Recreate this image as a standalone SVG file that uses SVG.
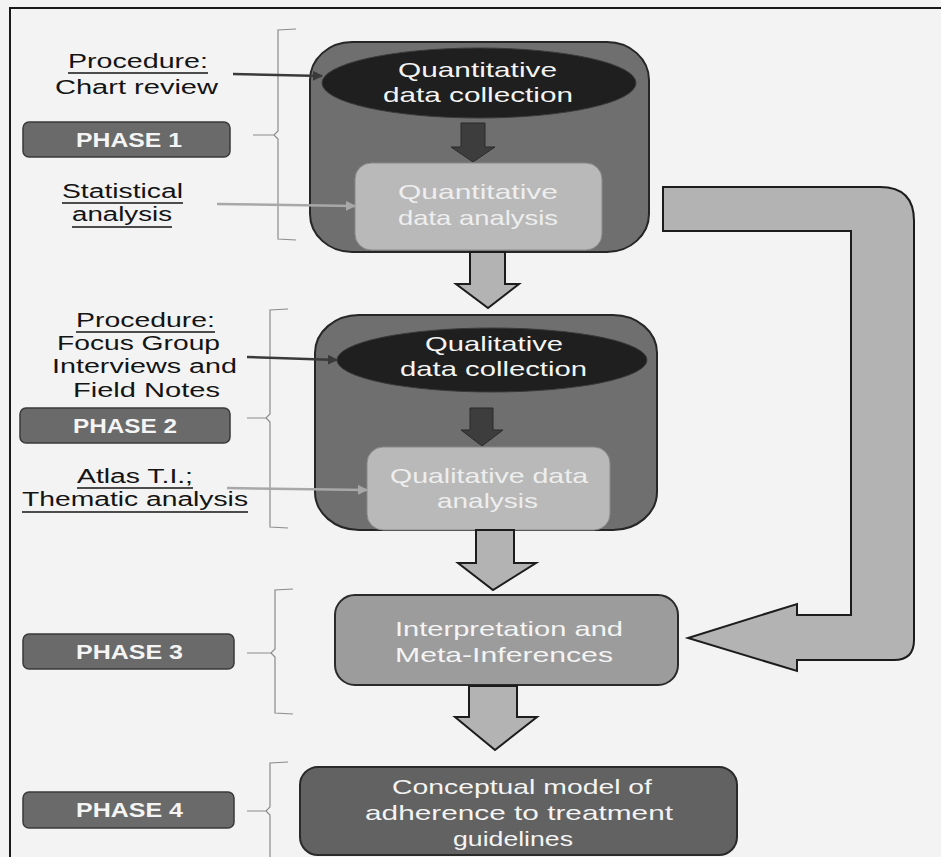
<svg xmlns="http://www.w3.org/2000/svg" width="941" height="857" viewBox="0 0 941 857">
  <defs>
    <style>
      .lbl { font-family: "Liberation Sans", Arial, sans-serif; font-size: 20px; fill: #141414; }
      .phase { font-family: "Liberation Sans", Arial, sans-serif; font-size: 21px; font-weight: bold; fill: #f4f4f4; }
      .in { font-family: "Liberation Sans", Arial, sans-serif; font-size: 21px; fill: #f4f4f4; }
      .inl { font-family: "Liberation Sans", Arial, sans-serif; font-size: 21px; fill: #eeeeee; }
      .ul { stroke: #141414; stroke-width: 1.6; }
      .phasebox { fill: #6a6a6a; stroke: #3a3a3a; stroke-width: 1.5; }
      .cyl { fill: #6f6f6f; stroke: #262626; stroke-width: 2; }
      .ell { fill: #1f1f1f; stroke: #3a3a3a; stroke-width: 1; }
      .inner { fill: #b9b9b9; stroke: #8a8a8a; stroke-width: 1; }
      .bigarrow { fill: #b3b3b3; stroke: #1c1c1c; stroke-width: 2; stroke-linejoin: miter; }
      .smallarrow { fill: #3d3d3d; stroke: #2a2a2a; stroke-width: 1; }
      .brace { fill: none; stroke: #8c8c8c; stroke-width: 1.2; }
      .darkline { stroke: #3a3a3a; stroke-width: 2.5; fill: none; }
      .lightline { stroke: #a8a8a8; stroke-width: 2.5; fill: none; }
    </style>
    <marker id="headDark" viewBox="0 0 10 10" refX="9" refY="5" markerWidth="4" markerHeight="4" orient="auto">
      <path d="M0,0 L10,5 L0,10 Z" fill="#3a3a3a"/>
    </marker>
    <marker id="headLight" viewBox="0 0 10 10" refX="9" refY="5" markerWidth="4" markerHeight="4" orient="auto">
      <path d="M0,0 L10,5 L0,10 Z" fill="#a8a8a8"/>
    </marker>
  </defs>

  <!-- page -->
  <rect x="0" y="0" width="941" height="857" fill="#f3f3f3"/>
  <path d="M10,857 L10,8 L941,8" fill="none" stroke="#1a1a1a" stroke-width="2"/>

  <!-- Phase 1: quantitative strand -->
  <g id="phase1-cylinder">
    <rect class="cyl" x="310" y="42" width="339" height="210" rx="42" ry="38"/>
    <ellipse class="ell" cx="479" cy="83" rx="157" ry="35"/>
    <text class="in"><tspan x="398" y="77" textLength="159" lengthAdjust="spacingAndGlyphs">Quantitative</tspan><tspan x="383" y="102" textLength="190" lengthAdjust="spacingAndGlyphs">data collection</tspan></text>
    <path class="smallarrow" d="M461,123 L485,123 L485,147 L495,147 L473,162 L451,147 L461,147 Z"/>
  </g>
  <g id="quant-analysis">
    <rect class="inner" x="355" y="163" width="247" height="87" rx="16"/>
    <text class="inl"><tspan x="398" y="199" textLength="160" lengthAdjust="spacingAndGlyphs">Quantitative</tspan><tspan x="398" y="225" textLength="160" lengthAdjust="spacingAndGlyphs">data analysis</tspan></text>
  </g>

  <!-- Phase 2: qualitative strand -->
  <g id="phase2-cylinder">
    <rect class="cyl" x="315" y="315" width="342" height="215" rx="44" ry="38"/>
    <ellipse class="ell" cx="492" cy="360" rx="155" ry="32"/>
    <text class="in"><tspan x="425" y="351" textLength="138" lengthAdjust="spacingAndGlyphs">Qualitative</tspan><tspan x="400" y="376" textLength="187" lengthAdjust="spacingAndGlyphs">data collection</tspan></text>
    <path class="smallarrow" d="M470,408 L493,408 L493,430 L503,430 L482,446 L461,430 L470,430 Z"/>
  </g>
  <g id="qual-analysis">
    <rect class="inner" x="367" y="447" width="243" height="83" rx="16"/>
    <text class="inl"><tspan x="390" y="483" textLength="198" lengthAdjust="spacingAndGlyphs">Qualitative data</tspan><tspan x="437" y="508" textLength="101" lengthAdjust="spacingAndGlyphs">analysis</tspan></text>
  </g>

  <!-- Phase 3 -->
  <g id="interpretation">
    <rect x="335" y="595" width="343" height="90" rx="20" fill="#9c9c9c" stroke="#2a2a2a" stroke-width="2"/>
    <text class="in"><tspan x="395" y="636" textLength="228" lengthAdjust="spacingAndGlyphs">Interpretation and</tspan><tspan x="395" y="662" textLength="218" lengthAdjust="spacingAndGlyphs">Meta-Inferences</tspan></text>
  </g>

  <!-- Phase 4 -->
  <g id="conceptual-model">
    <rect x="300" y="767" width="437" height="88" rx="18" fill="#626262" stroke="#2a2a2a" stroke-width="2"/>
    <text class="in"><tspan x="392" y="794" textLength="260" lengthAdjust="spacingAndGlyphs">Conceptual model of</tspan><tspan x="365" y="820" textLength="308" lengthAdjust="spacingAndGlyphs">adherence to treatment</tspan><tspan x="453" y="846" textLength="120" lengthAdjust="spacingAndGlyphs">guidelines</tspan></text>
  </g>

  <!-- phase labels -->
  <g id="phase1-label">
    <rect class="phasebox" x="23" y="122" width="207" height="35" rx="6"/>
    <text class="phase" x="76" y="147" textLength="106" lengthAdjust="spacingAndGlyphs">PHASE 1</text>
  </g>
  <g id="phase2-label">
    <rect class="phasebox" x="20" y="408" width="210" height="35" rx="6"/>
    <text class="phase" x="73" y="433" textLength="104" lengthAdjust="spacingAndGlyphs">PHASE 2</text>
  </g>
  <g id="phase3-label">
    <rect class="phasebox" x="23" y="634" width="211" height="35" rx="6"/>
    <text class="phase" x="76" y="659" textLength="107" lengthAdjust="spacingAndGlyphs">PHASE 3</text>
  </g>
  <g id="phase4-label">
    <rect class="phasebox" x="23" y="792" width="211" height="36" rx="6"/>
    <text class="phase" x="76" y="817" textLength="107" lengthAdjust="spacingAndGlyphs">PHASE 4</text>
  </g>

  <!-- method annotations -->
  <g id="chart-review">
    <text class="lbl"><tspan x="68" y="68" textLength="140" lengthAdjust="spacingAndGlyphs">Procedure:</tspan><tspan x="55" y="94" textLength="163" lengthAdjust="spacingAndGlyphs">Chart review</tspan></text>
    <line class="ul" x1="68" y1="73" x2="208" y2="73"/>
  </g>
  <g id="statistical-analysis">
    <text class="lbl"><tspan x="62" y="198" textLength="121" lengthAdjust="spacingAndGlyphs">Statistical</tspan><tspan x="72" y="221" textLength="100" lengthAdjust="spacingAndGlyphs">analysis</tspan></text>
    <line class="ul" x1="62" y1="203" x2="183" y2="203"/>
    <line class="ul" x1="72" y1="227" x2="172" y2="227"/>
  </g>
  <g id="focus-groups">
    <text class="lbl"><tspan x="76" y="327" textLength="139" lengthAdjust="spacingAndGlyphs">Procedure:</tspan><tspan x="57" y="350" textLength="163" lengthAdjust="spacingAndGlyphs">Focus Group</tspan><tspan x="52" y="373" textLength="185" lengthAdjust="spacingAndGlyphs">Interviews and</tspan><tspan x="73" y="397" textLength="147" lengthAdjust="spacingAndGlyphs">Field Notes</tspan></text>
    <line class="ul" x1="76" y1="332" x2="215" y2="332"/>
  </g>
  <g id="thematic-analysis">
    <text class="lbl"><tspan x="77" y="483" textLength="116" lengthAdjust="spacingAndGlyphs">Atlas T.I.;</tspan><tspan x="22" y="506" textLength="226" lengthAdjust="spacingAndGlyphs">Thematic analysis</tspan></text>
    <line class="ul" x1="77" y1="488" x2="193" y2="488"/>
    <line class="ul" x1="22" y1="512" x2="248" y2="512"/>
  </g>

  <!-- connectors -->
  <g id="connectors">
    <!-- braces -->
    <path class="brace" d="M296,29 L278,30 L278,131 L274,135 L253,135 M274,135 L278,139 L278,239 L296,240"/>
    <path class="brace" d="M288,309 L270,310 L270,414 L266,418 L247,418 M266,418 L270,422 L270,527 L288,528"/>
    <path class="brace" d="M293,589 L275,590 L275,649 L271,653 L247,653 M271,653 L275,657 L275,713 L293,714"/>
    <path class="brace" d="M288,762 L270,763 L270,807 L266,811 L247,811 M266,811 L270,815 L270,857"/>

    <!-- annotation pointers -->
    <line class="darkline" x1="233" y1="74" x2="322" y2="76" marker-end="url(#headDark)"/>
    <line class="lightline" x1="217" y1="204" x2="355" y2="206" marker-end="url(#headLight)"/>
    <line class="darkline" x1="247" y1="357" x2="337" y2="360" marker-end="url(#headDark)"/>
    <line class="lightline" x1="227" y1="488" x2="367" y2="490" marker-end="url(#headLight)"/>

    <!-- block arrows between phases -->
    <path class="bigarrow" d="M470,252 L505,252 L505,284 L519,284 L488,308 L456,284 L470,284 Z"/>
    <path class="bigarrow" d="M476,530 L514,530 L514,563 L536,563 L493,590 L458,563 L476,563 Z"/>
    <path class="bigarrow" d="M469,686 L517,686 L517,717 L537,717 L495,750 L455,717 L469,717 Z"/>

    <!-- feed of quantitative results into phase 3 -->
    <path class="bigarrow" d="M663,187 L880,187 Q914,187 914,221 L914,640 Q914,660 894,660 L797,660 L797,671 L688,638 L797,604 L797,615 L851,615 L851,231 L663,231 Z"/>
  </g>
</svg>
